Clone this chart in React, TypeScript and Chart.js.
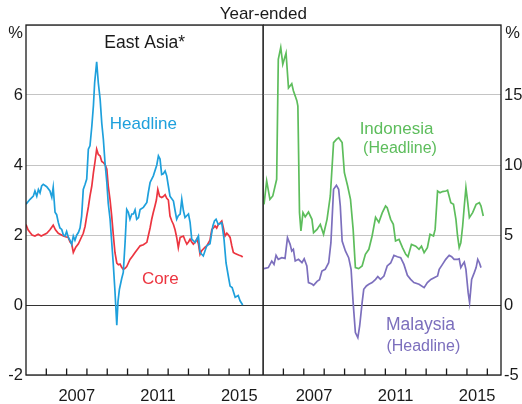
import React, { useEffect, useRef } from "react";
import { Chart, registerables } from "chart.js";

Chart.register(...registerables);

// ---------- data (decimal years, % year-ended) ----------
const eaHeadlineDates = [
  2005.0, 2005.2, 2005.36, 2005.44, 2005.53, 2005.61, 2005.69, 2005.77, 2005.85, 2006.02,
  2006.18, 2006.27, 2006.34, 2006.43, 2006.51, 2006.59, 2006.67, 2006.76, 2006.84, 2006.92,
  2007.0, 2007.08, 2007.17, 2007.25, 2007.33, 2007.41, 2007.5, 2007.58, 2007.66, 2007.74,
  2007.82, 2007.91, 2007.99, 2008.07, 2008.15, 2008.24, 2008.32, 2008.38, 2008.48, 2008.56,
  2008.65, 2008.73, 2008.81, 2008.89, 2008.98, 2009.05, 2009.14, 2009.22, 2009.3, 2009.38,
  2009.47, 2009.53, 2009.6, 2009.71, 2009.79, 2009.88, 2009.96, 2010.04, 2010.12, 2010.21,
  2010.29, 2010.37, 2010.45, 2010.54, 2010.62, 2010.78, 2010.95, 2011.02, 2011.11, 2011.27,
  2011.44, 2011.52, 2011.6, 2011.68, 2011.76, 2011.85, 2011.93, 2012.01, 2012.09, 2012.26,
  2012.34, 2012.42, 2012.5, 2012.59, 2012.67, 2012.75, 2012.83, 2013.0, 2013.08, 2013.16,
  2013.33, 2013.49, 2013.57, 2013.73, 2013.9, 2014.06, 2014.2, 2014.28, 2014.36, 2014.47,
  2014.64, 2014.75, 2014.85, 2014.97, 2015.05, 2015.15, 2015.3, 2015.45, 2015.54, 2015.67,
];
const eaHeadlineValues = [
  2.88, 3.02, 3.11, 3.26, 3.11, 3.3, 3.2, 3.4, 3.45, 3.38,
  3.26, 3.08, 3.36, 2.65, 2.58, 2.36, 2.2, 2.16, 2.0, 1.97,
  2.1, 1.94, 1.85, 1.73, 1.97, 1.85, 2.0, 2.07, 2.2, 2.54,
  3.3, 3.45, 3.6, 4.45, 4.55, 5.1, 5.7, 6.35, 6.95, 6.35,
  5.88, 5.2, 4.73, 4.07, 3.5, 2.9, 2.45, 1.8, 1.15, 0.4,
  -0.58, 0.1, 0.45, 0.75, 0.93, 1.8, 2.73, 2.65, 2.45, 2.6,
  2.6, 2.72, 2.45, 2.5, 2.73, 2.79, 2.93, 3.2, 3.5, 3.69,
  4.0, 4.26, 4.17, 3.73, 3.75, 3.83, 3.69, 3.4, 3.11, 2.97,
  2.7, 2.45, 2.55, 2.6, 3.02, 2.7, 2.5, 2.6, 2.36, 1.88,
  1.79, 1.97, 1.5, 1.4, 1.69, 1.75, 2.26, 2.4, 2.45, 2.3,
  2.35, 1.88, 1.2, 0.8, 0.54, 0.5, 0.22, 0.27, 0.12, 0.0,
];

const eaCoreDates = [
  2005.0, 2005.1, 2005.2, 2005.3, 2005.44, 2005.6, 2005.75, 2005.85, 2006.02, 2006.18,
  2006.34, 2006.45, 2006.59, 2006.75, 2006.84, 2006.95, 2007.08, 2007.17, 2007.25, 2007.33,
  2007.45, 2007.58, 2007.7, 2007.82, 2007.91, 2007.99, 2008.07, 2008.15, 2008.24, 2008.32,
  2008.4, 2008.48, 2008.56, 2008.65, 2008.73, 2008.81, 2008.9, 2008.98, 2009.05, 2009.14,
  2009.22, 2009.3, 2009.38, 2009.47, 2009.55, 2009.63, 2009.71, 2009.79, 2009.88, 2009.96,
  2010.04, 2010.12, 2010.25, 2010.37, 2010.5, 2010.62, 2010.78, 2010.95, 2011.02, 2011.11,
  2011.19, 2011.27, 2011.35, 2011.42, 2011.49, 2011.58, 2011.68, 2011.76, 2011.85, 2011.93,
  2012.01, 2012.09, 2012.18, 2012.26, 2012.34, 2012.42, 2012.5, 2012.59, 2012.67, 2012.75,
  2012.83, 2012.92, 2013.0, 2013.08, 2013.16, 2013.24, 2013.33, 2013.41, 2013.49, 2013.57,
  2013.65, 2013.73, 2013.82, 2013.9, 2014.06, 2014.15, 2014.23, 2014.31, 2014.39, 2014.47,
  2014.56, 2014.64, 2014.72, 2014.8, 2014.89, 2014.97, 2015.05, 2015.13, 2015.21, 2015.3,
  2015.38, 2015.5, 2015.6, 2015.67,
];
const eaCoreValues = [
  2.3, 2.15, 2.07, 2.0, 1.97, 2.02, 1.97, 2.0, 2.05, 2.15,
  2.28, 2.15, 2.05, 2.0, 1.97, 1.95, 1.93, 1.8, 1.75, 1.5,
  1.65, 1.75, 1.9, 2.05, 2.25, 2.54, 2.8, 3.11, 3.4, 3.78,
  4.1, 4.45, 4.3, 4.26, 4.1, 4.07, 4.0, 3.88, 3.4, 3.0,
  2.54, 2.0, 1.5, 1.2, 1.15, 1.17, 1.08, 1.02, 1.05, 1.1,
  1.2, 1.3, 1.4, 1.5, 1.6, 1.69, 1.72, 1.79, 1.97, 2.2,
  2.45, 2.65, 2.83, 3.0, 3.3, 3.1, 3.07, 3.1, 3.15, 3.05,
  3.0, 2.54, 2.4, 2.3, 2.15, 1.93, 1.64, 1.93, 1.95, 1.97,
  1.85, 1.74, 1.8, 1.88, 1.8, 1.74, 1.8, 1.88, 1.75, 1.45,
  1.55, 1.6, 1.65, 1.69, 1.85, 2.16, 2.2, 2.26, 2.2, 2.3,
  2.35, 2.4, 2.2, 1.97, 2.05, 2.0, 1.93, 1.7, 1.5, 1.47,
  1.45, 1.42, 1.4, 1.37,
];

const indonesiaDates = [
  2005.05, 2005.18, 2005.34, 2005.48, 2005.67, 2005.75, 2005.87, 2005.97, 2006.13, 2006.25,
  2006.41, 2006.49, 2006.66, 2006.71, 2006.79, 2006.86, 2006.96, 2007.07, 2007.23, 2007.4,
  2007.48, 2007.65, 2007.81, 2007.97, 2008.14, 2008.3, 2008.46, 2008.6, 2008.71, 2008.88,
  2008.99, 2009.15, 2009.29, 2009.42, 2009.53, 2009.69, 2009.86, 2010.02, 2010.19, 2010.35,
  2010.52, 2010.68, 2010.85, 2011.01, 2011.09, 2011.26, 2011.39, 2011.5, 2011.67, 2011.84,
  2012.0, 2012.11, 2012.28, 2012.49, 2012.65, 2012.77, 2012.9, 2013.06, 2013.19, 2013.36,
  2013.44, 2013.56, 2013.68, 2013.8, 2013.97, 2014.05, 2014.21, 2014.34, 2014.46, 2014.54,
  2014.62, 2014.7, 2014.79, 2014.87, 2014.95, 2015.04, 2015.12, 2015.28, 2015.45, 2015.61,
  2015.69, 2015.8,
];
const indonesiaValues = [
  7.19, 8.86, 7.55, 7.79, 8.98, 17.55, 18.4, 17.2, 18.0, 15.5,
  15.8, 15.3, 14.6, 14.2, 6.6, 5.29, 6.6, 6.3, 6.64, 6.12,
  5.17, 5.4, 5.76, 5.05, 6.12, 7.79, 11.6, 11.83, 11.95, 11.6,
  9.45, 8.5, 7.55, 5.4, 2.67, 2.6, 2.79, 3.62, 3.98, 4.93,
  6.26, 5.9, 6.6, 7.07, 6.95, 6.12, 5.76, 4.57, 4.69, 4.1,
  3.62, 3.45, 4.33, 4.2, 3.98, 4.2, 3.74, 4.1, 5.05, 4.93,
  5.4, 8.14, 8.02, 8.1, 8.14, 8.2, 7.31, 7.2, 6.12, 4.93,
  4.1, 4.45, 5.64, 7.07, 8.38, 7.31, 6.24, 6.6, 7.19, 7.31,
  7.07, 6.36,
];

const malaysiaDates = [
  2005.05, 2005.26, 2005.43, 2005.54, 2005.64, 2005.75, 2005.92, 2006.08, 2006.2, 2006.33,
  2006.41, 2006.49, 2006.58, 2006.74, 2006.91, 2007.02, 2007.15, 2007.23, 2007.4, 2007.48,
  2007.65, 2007.77, 2007.89, 2008.05, 2008.22, 2008.33, 2008.46, 2008.6, 2008.71, 2008.79,
  2008.88, 2009.04, 2009.2, 2009.32, 2009.42, 2009.53, 2009.65, 2009.74, 2009.86, 2009.94,
  2010.07, 2010.19, 2010.35, 2010.52, 2010.63, 2010.76, 2010.93, 2011.09, 2011.26, 2011.42,
  2011.59, 2011.75, 2011.91, 2012.08, 2012.24, 2012.4, 2012.65, 2012.9, 2013.06, 2013.23,
  2013.39, 2013.56, 2013.64, 2013.8, 2013.96, 2014.13, 2014.25, 2014.37, 2014.54, 2014.62,
  2014.7, 2014.79, 2014.87, 2014.95, 2015.06, 2015.13, 2015.23, 2015.36, 2015.45, 2015.53,
  2015.61, 2015.69,
];
const malaysiaValues = [
  2.6, 2.67, 3.14, 2.9, 3.55, 3.26, 3.38, 3.33, 4.81, 4.33,
  3.86, 3.98, 3.14, 3.26, 3.02, 3.3, 2.79, 1.6, 1.5, 1.4,
  1.69, 1.8, 2.43, 2.55, 3.02, 4.45, 8.26, 8.55, 8.26, 7.07,
  4.57, 3.86, 3.38, 2.55, 0.17, -1.97, -2.33, -1.5, 0.17, 1.12,
  1.36, 1.48, 1.6, 1.83, 2.03, 1.83, 2.07, 2.79, 3.0, 3.55,
  3.45, 3.38, 2.9, 2.12, 1.83, 1.6, 1.48, 1.24, 1.6, 1.83,
  1.95, 2.07, 2.55, 2.9, 3.26, 3.55, 3.45, 3.26, 3.26, 3.3,
  2.67, 2.9, 3.07, 2.55, 0.88, 0.17, 1.83, 2.31, 2.67, 3.26,
  3.02, 2.67,
];

// ---------- axes ----------
const X_MIN = 2005;
const X_MAX = 2016.67;
const yearLabels = [2007, 2011, 2015];
const tickYears = [2006, 2007, 2008, 2009, 2010, 2011, 2012, 2013, 2014, 2015, 2016];
const leftAxis = { min: -2, max: 8, step: 2 };
const rightAxis = { min: -5, max: 20, step: 5 };

// ---------- styles ----------
const FONT = "'Liberation Sans', Arial, Helvetica, sans-serif";
const TEXT = "#1a1a1a";
const BLUE = "#1ea0dc";
const RED = "#ec3540";
const GREEN = "#5dbd5c";
const PURPLE = "#7c6fbd";
const GRID = "#c4c4c4";

const W = 522;
const H = 404;
const SPLIT = 263;
const PLOT_TOP = 25;
const PLOT_BOTTOM = 375;
const LEFT_AXIS_W = 26;
const RIGHT_AXIS_W = W - 501;

type Txt = { text: string; x: number; y: number; size: number; color: string };

const leftTexts: Txt[] = [
  { text: "Year-ended", x: 263.3, y: 19, size: 17, color: TEXT },
  { text: "%", x: 15.5, y: 38, size: 16.5, color: TEXT },
  { text: "%", x: 512.5, y: 38, size: 16.5, color: TEXT },
  { text: "East Asia*", x: 144.7, y: 48.3, size: 17.5, color: TEXT },
  { text: "Headline", x: 143.3, y: 129.3, size: 17, color: BLUE },
  { text: "Core", x: 160.3, y: 284, size: 17, color: RED },
];
const rightTexts: Txt[] = [
  { text: "Indonesia", x: 396.5, y: 134, size: 17, color: GREEN },
  { text: "(Headline)", x: 400, y: 153.3, size: 16, color: GREEN },
  { text: "Malaysia", x: 420.5, y: 330, size: 17.5, color: PURPLE },
  { text: "(Headline)", x: 423.3, y: 350.7, size: 16, color: PURPLE },
];

function pts(dates: number[], values: number[]) {
  return dates.map((d, i) => ({ x: d, y: values[i] }));
}

function line(label: string, dates: number[], values: number[], color: string) {
  return {
    label,
    data: pts(dates, values),
    borderColor: color,
    backgroundColor: color,
    borderWidth: 1.7,
    pointRadius: 0,
    tension: 0,
    fill: false,
  };
}

function framePlugin(texts: Txt[], offsetX: number) {
  return {
    id: "frameText",
    afterDraw(chart: any) {
      const { ctx, chartArea: a } = chart;
      const xs = chart.scales.x;
      ctx.save();
      ctx.strokeStyle = TEXT;
      ctx.lineWidth = 1.3;
      ctx.beginPath();
      for (const yr of tickYears) {
        const px = xs.getPixelForValue(yr);
        ctx.moveTo(px, a.bottom);
        ctx.lineTo(px, a.bottom - 6.5);
      }
      ctx.stroke();
      ctx.strokeRect(a.left, a.top, a.right - a.left, a.bottom - a.top);
      ctx.textAlign = "center";
      ctx.textBaseline = "alphabetic";
      for (const t of texts) {
        ctx.font = `${t.size}px ${FONT}`;
        ctx.fillStyle = t.color;
        ctx.fillText(t.text, t.x - offsetX, t.y);
      }
      ctx.restore();
    },
  };
}

function makeConfig(
  datasets: any[],
  axis: { min: number; max: number; step: number },
  side: "left" | "right",
  padRight: number,
  texts: Txt[],
  offsetX: number
): any {
  return {
    type: "line",
    data: { datasets },
    plugins: [framePlugin(texts, offsetX)],
    options: {
      animation: false,
      responsive: false,
      devicePixelRatio: 1,
      layout: { padding: { top: PLOT_TOP, left: 0, right: padRight, bottom: 0 } },
      plugins: { legend: { display: false }, tooltip: { enabled: false } },
      scales: {
        x: {
          type: "linear",
          min: X_MIN,
          max: X_MAX,
          grid: { display: false },
          border: { display: false },
          afterBuildTicks: (s: any) => {
            s.ticks = yearLabels.map((y) => ({ value: y + 0.5 }));
          },
          afterFit: (s: any) => {
            s.height = H - PLOT_BOTTOM;
          },
          ticks: {
            autoSkip: false,
            maxRotation: 0,
            padding: 4,
            color: TEXT,
            font: { family: FONT, size: 16.5 },
            callback: (v: number) => String(Math.floor(v)),
          },
        },
        y: {
          type: "linear",
          position: side,
          min: axis.min,
          max: axis.max,
          afterFit: (s: any) => {
            s.width = side === "left" ? LEFT_AXIS_W : RIGHT_AXIS_W;
          },
          grid: {
            drawTicks: false,
            lineWidth: 1,
            color: (c: any) => (c.tick && c.tick.value === 0 ? "#333333" : GRID),
          },
          border: { display: false },
          ticks: {
            stepSize: axis.step,
            padding: 3,
            color: TEXT,
            font: { family: FONT, size: 16.5 },
            callback: (v: number) => (v === axis.max ? "" : String(v)),
          },
        },
      },
    },
  };
}

export default function App() {
  const leftRef = useRef<HTMLCanvasElement>(null);
  const rightRef = useRef<HTMLCanvasElement>(null);

  useEffect(() => {
    const left = new Chart(
      leftRef.current as HTMLCanvasElement,
      makeConfig(
        [
          line("Headline", eaHeadlineDates, eaHeadlineValues, BLUE),
          line("Core", eaCoreDates, eaCoreValues, RED),
        ],
        leftAxis,
        "left",
        W - SPLIT,
        leftTexts,
        0
      )
    );
    const right = new Chart(
      rightRef.current as HTMLCanvasElement,
      makeConfig(
        [
          line("Indonesia", indonesiaDates, indonesiaValues, GREEN),
          line("Malaysia", malaysiaDates, malaysiaValues, PURPLE),
        ],
        rightAxis,
        "right",
        0,
        rightTexts,
        SPLIT
      )
    );
    return () => {
      left.destroy();
      right.destroy();
    };
  }, []);

  return (
    <div style={{ position: "absolute", left: 0, top: 0, width: W, height: H, background: "#fff" }}>
      <canvas
        ref={leftRef}
        width={W}
        height={H}
        style={{ position: "absolute", left: 0, top: 0, width: W, height: H }}
      />
      <canvas
        ref={rightRef}
        width={W - SPLIT}
        height={H}
        style={{ position: "absolute", left: SPLIT, top: 0, width: W - SPLIT, height: H }}
      />
    </div>
  );
}
